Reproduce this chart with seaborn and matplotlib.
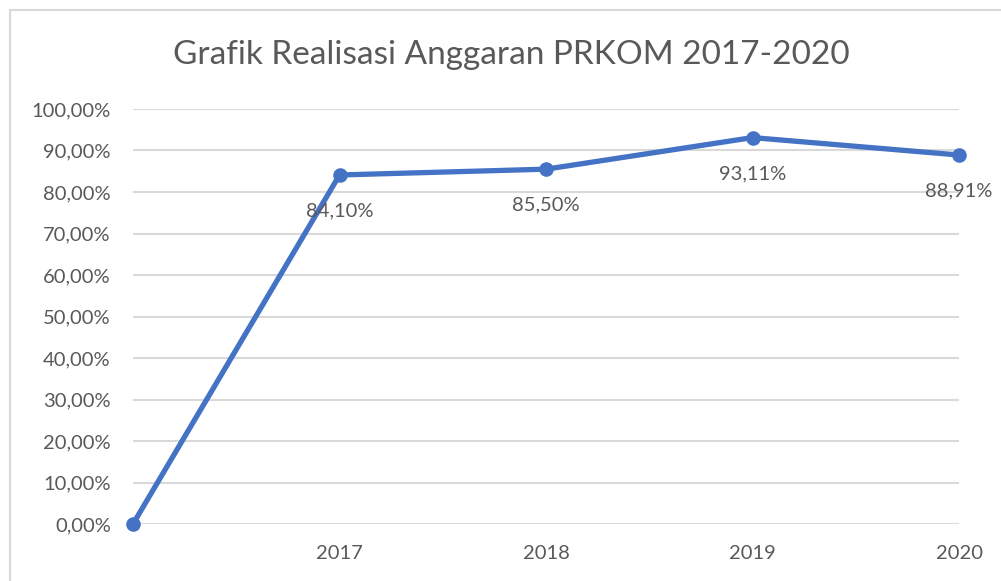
import matplotlib
matplotlib.use("Agg")
import matplotlib.pyplot as plt
import seaborn as sns
import pandas as pd
from matplotlib.patches import Rectangle

categories = ["", "2017", "2018", "2019", "2020"]
values = [0.0, 84.10, 85.50, 93.11, 88.91]
label_texts = ["", "84,10%", "85,50%", "93,11%", "88,91%"]
y_ticks = [0, 10, 20, 30, 40, 50, 60, 70, 80, 90, 100]
y_tick_labels = ["0,00%", "10,00%", "20,00%", "30,00%", "40,00%", "50,00%",
                 "60,00%", "70,00%", "80,00%", "90,00%", "100,00%"]
title = "Grafik Realisasi Anggaran PRKOM 2017-2020"

sns.set_style("white")
plt.rcParams['font.family'] = ['Lato', 'DejaVu Sans']

TXT = "#595959"
LINE = "#4472C4"
GRID = "#D9D9D9"

W, H = 1001, 581
fig = plt.figure(figsize=(W / 100, H / 100), dpi=100)
ax = fig.add_axes([133 / W, 1 - 524 / H, (959 - 133) / W, (524 - 109) / H])

df = pd.DataFrame({"pos": list(range(len(categories))), "val": values})
sns.lineplot(data=df, x="pos", y="val", ax=ax, sort=False, color=LINE,
             linewidth=3.8, marker="o", markersize=10.5, markeredgewidth=0,
             markeredgecolor=LINE, clip_on=False, zorder=5)

ax.set_xlim(0, len(categories) - 1)
ax.set_ylim(0, 100)
ax.set_yticks(y_ticks)
ax.set_yticklabels(y_tick_labels)
ax.set_xticks(range(len(categories)))
ax.set_xticklabels(categories)
ax.tick_params(axis="both", length=0, labelsize=14.5, colors=TXT)
ax.tick_params(axis="y", pad=16)
ax.tick_params(axis="x", pad=15)
ax.set_xlabel("")
ax.set_ylabel("")
for s in ax.spines.values():
    s.set_visible(False)
ax.yaxis.grid(True, color=GRID, linewidth=1.5)
ax.xaxis.grid(False)
ax.set_axisbelow(True)

for i, (v, t) in enumerate(zip(values, label_texts)):
    if t:
        ax.annotate(t, (i, v), xytext=(0, -26), textcoords="offset points",
                    ha="center", va="center", fontsize=14.5, color=TXT, zorder=6)

fig.text(511 / W, 1 - 55 / H, title, ha="center", va="center",
         fontsize=24, color=TXT)

fig.patches.append(Rectangle((10 / W, -0.05), 1.2, 1 - 10 / H + 0.05,
                             transform=fig.transFigure, fill=False,
                             edgecolor=GRID, linewidth=1.5))

fig.savefig("out.png", dpi=100)
